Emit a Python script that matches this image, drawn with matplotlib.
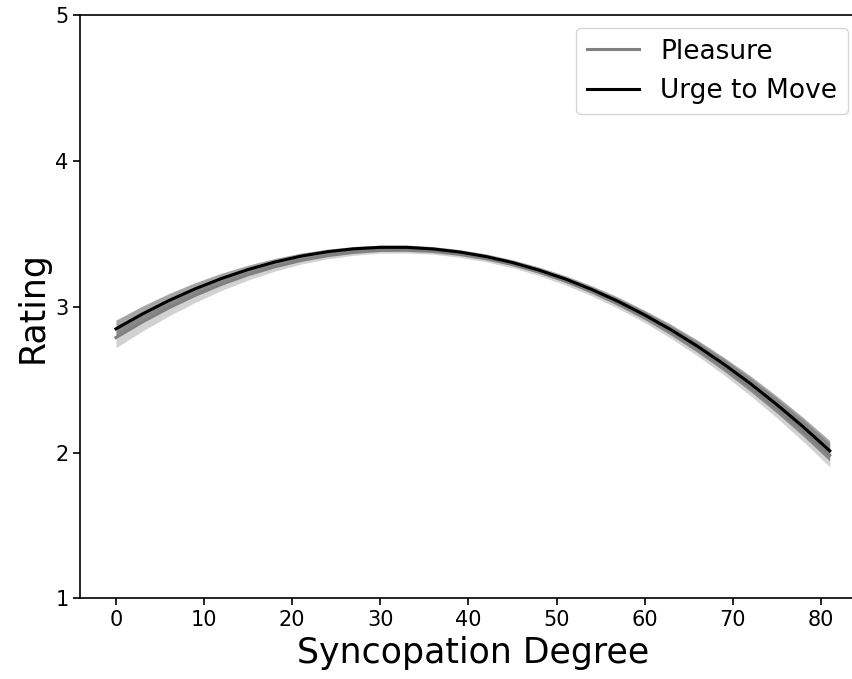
import numpy as np
import matplotlib.pyplot as plt

# syncopation degree sample points
syncopation = [0, 3, 6, 9, 12, 15, 18, 21, 24, 27, 30, 33, 36, 39,
               42, 45, 48, 51, 54, 57, 60, 63, 66, 69, 72, 75, 78, 81]

pleasure = [2.790, 2.897, 2.994, 3.080, 3.156, 3.221, 3.275, 3.319, 3.352, 3.375,
            3.388, 3.389, 3.381, 3.361, 3.331, 3.291, 3.240, 3.178, 3.106, 3.024,
            2.931, 2.827, 2.713, 2.588, 2.452, 2.306, 2.150, 1.983]
urge = [2.850, 2.952, 3.044, 3.125, 3.196, 3.257, 3.308, 3.349, 3.379, 3.399,
        3.409, 3.409, 3.398, 3.377, 3.346, 3.305, 3.253, 3.192, 3.120, 3.038,
        2.945, 2.843, 2.730, 2.607, 2.474, 2.330, 2.177, 2.013]

# half width of the confidence band
pleasure_ci = [0.07, 0.063, 0.056, 0.049, 0.042, 0.036, 0.03, 0.025, 0.022, 0.02,
               0.019, 0.019, 0.019, 0.02, 0.021, 0.022, 0.024, 0.027, 0.03, 0.034,
               0.038, 0.043, 0.049, 0.055, 0.061, 0.067, 0.074, 0.08]
urge_ci = [0.06, 0.054, 0.048, 0.042, 0.036, 0.03, 0.025, 0.021, 0.018, 0.016,
           0.016, 0.016, 0.016, 0.017, 0.018, 0.019, 0.021, 0.023, 0.026, 0.029,
           0.032, 0.037, 0.042, 0.047, 0.053, 0.058, 0.064, 0.07]

x = np.array(syncopation)
p = np.array(pleasure)
u = np.array(urge)
pc = np.array(pleasure_ci)
uc = np.array(urge_ci)

fig = plt.figure(figsize=(8.53, 6.79), dpi=100)
ax = fig.add_axes([0.0941, 0.1186, 0.9205, 0.8586])

ax.fill_between(x, p - pc, p + pc, color='gray', alpha=0.35, lw=0)
ax.fill_between(x, u - uc, u + uc, color='black', alpha=0.35, lw=0)
ax.plot(x, p, color='gray', lw=2.2, label='Pleasure')
ax.plot(x, u, color='black', lw=2.2, label='Urge to Move')

ax.set_ylim(1, 5)
ax.set_yticks([1, 2, 3, 4, 5])
ax.set_xticks(range(0, 81, 10))
ax.tick_params(labelsize=15, width=1.2, length=5)
for s in ax.spines.values():
    s.set_linewidth(1.2)

ax.set_xlabel('Syncopation Degree', fontsize=25)
ax.set_ylabel('Rating', fontsize=25)

ax.legend(fontsize=19, loc='upper right', bbox_to_anchor=(848 / 853, 1 - 28 / 679),
          bbox_transform=fig.transFigure, borderaxespad=0)

fig.savefig('out.png', dpi=100)
